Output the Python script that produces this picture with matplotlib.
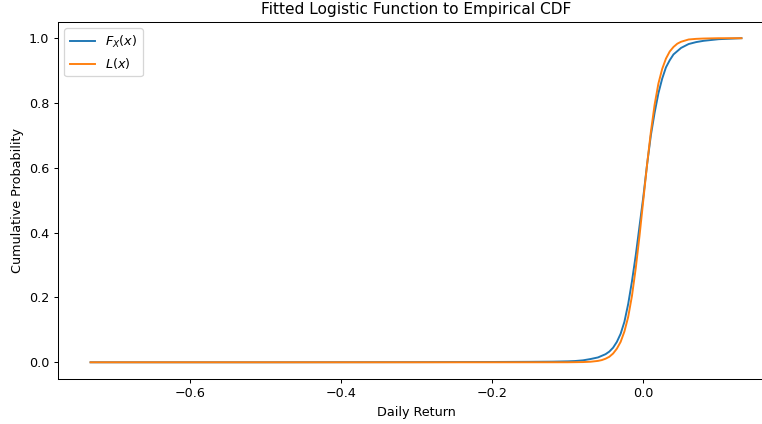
import matplotlib.pyplot as plt
import numpy as np

# values
x_emp = [-0.732, -0.5, -0.3, -0.2, -0.15, -0.12, -0.1, -0.09, -0.08, -0.07, -0.06, -0.05,
         -0.045, -0.04, -0.035, -0.03, -0.025, -0.02, -0.015, -0.01, -0.005, 0.0,
         0.005, 0.01, 0.015, 0.02, 0.025, 0.03, 0.035, 0.04, 0.05, 0.06, 0.07,
         0.08, 0.10, 0.130]
F_emp = [0.0, 0.0, 0.0005, 0.001, 0.0015, 0.002, 0.003, 0.004, 0.006, 0.01, 0.015, 0.025,
         0.033, 0.045, 0.063, 0.088, 0.125, 0.18, 0.25, 0.33, 0.42, 0.51,
         0.61, 0.70, 0.77, 0.83, 0.875, 0.91, 0.932, 0.95, 0.97, 0.982, 0.988,
         0.992, 0.997, 1.0]

x_fit = [-0.732, -0.5, -0.3, -0.2, -0.1, -0.08, -0.07, -0.06, -0.055, -0.05, -0.045,
         -0.04, -0.035, -0.03, -0.025, -0.02, -0.015, -0.01, -0.005, 0.0, 0.005,
         0.01, 0.015, 0.02, 0.025, 0.03, 0.035, 0.04, 0.045, 0.05, 0.06, 0.07,
         0.08, 0.10, 0.130]
L_fit = [0.0, 0.0, 0.0, 0.0, 0.0001, 0.0007, 0.0017, 0.0043, 0.0068, 0.011, 0.017,
         0.027, 0.042, 0.063, 0.095, 0.14, 0.205, 0.29, 0.39, 0.50, 0.61,
         0.71, 0.795, 0.86, 0.905, 0.937, 0.959, 0.973, 0.983, 0.989, 0.996, 0.998,
         0.999, 1.0, 1.0]

W, H, DPI = 762, 424, 92
fig = plt.figure(figsize=(W / DPI, H / DPI), dpi=DPI)
# the reference is cropped on the right, so the axes runs past the edge
ax = fig.add_axes([58 / W, 1 - 378.5 / H, 716 / W, 356.5 / H])

ax.plot(x_emp, F_emp, label='$F_X(x)$')
ax.plot(x_fit, L_fit, label='$L(x)$')
ax.set_title('Fitted Logistic Function to Empirical CDF')
ax.set_xlabel('Daily Return')
ax.set_ylabel('Cumulative Probability')
ax.legend(loc='upper left')

fig.savefig('out.png', dpi=DPI)
